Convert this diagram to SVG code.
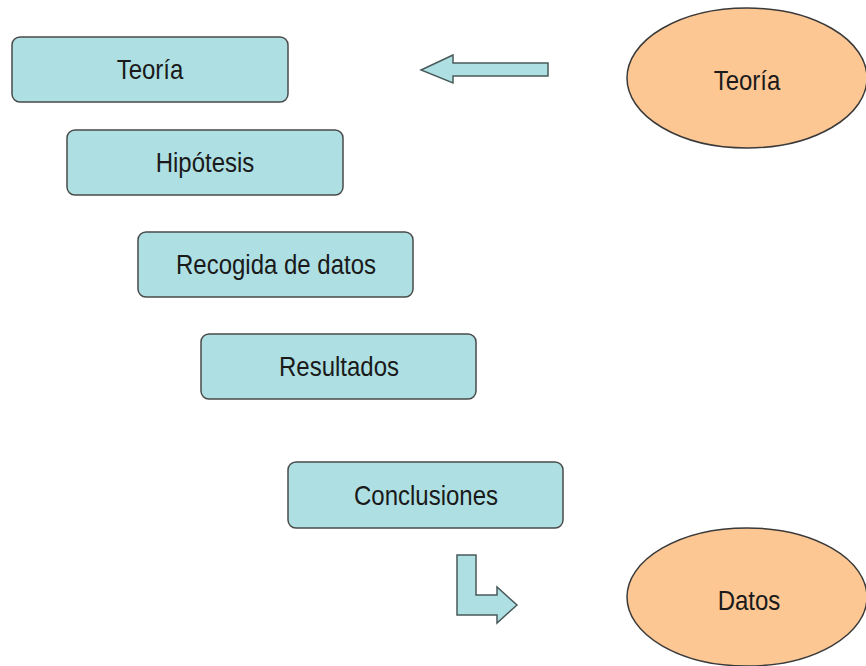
<svg xmlns="http://www.w3.org/2000/svg" width="866" height="666" viewBox="0 0 866 666">
<style>
.box{fill:#aee0e3;stroke:#4a4a4a;stroke-width:1.5}
.ell{fill:#fdc794;stroke:#3a3a3a;stroke-width:1.5}
.arr{fill:#aee0e3;stroke:#4a5a5a;stroke-width:1.5;stroke-linejoin:miter}
.t{font-family:"Liberation Sans",Arial,sans-serif;font-size:24px;fill:#1a1a1a;text-anchor:middle}
</style>
<rect width="866" height="666" fill="#ffffff"/>
<g id="teoria-box"><rect class="box" x="12" y="37" width="276" height="65" rx="8"/><text class="t" transform="translate(150,79) scale(1,1.18)">Teoría</text></g>
<g id="hipotesis"><rect class="box" x="67" y="130" width="276" height="65" rx="8"/><text class="t" transform="translate(205,172) scale(1,1.18)">Hipótesis</text></g>
<g id="recogida"><rect class="box" x="138" y="232" width="275" height="65" rx="8"/><text class="t" transform="translate(276,274) scale(1,1.18)">Recogida de datos</text></g>
<g id="resultados"><rect class="box" x="201" y="334" width="275" height="65" rx="8"/><text class="t" transform="translate(339,376) scale(1,1.18)">Resultados</text></g>
<g id="conclusiones"><rect class="box" x="288" y="462" width="275" height="66" rx="8"/><text class="t" transform="translate(426,505) scale(1,1.18)">Conclusiones</text></g>
<g id="teoria-ellipse"><ellipse class="ell" cx="747" cy="78" rx="120" ry="70"/><text class="t" transform="translate(747,90) scale(1,1.18)">Teoría</text></g>
<g id="datos-ellipse"><ellipse class="ell" cx="747" cy="597" rx="120" ry="69"/><text class="t" transform="translate(749,610) scale(1,1.18)">Datos</text></g>
<g id="connectors">
<polygon class="arr" points="548,63 453,63 453,55 421,70 453,83 453,76 548,76"/>
<polygon class="arr" points="457,555 476,555 476,595 497,595 497,587 517,605 497,623 497,615 457,615"/>
</g>
</svg>
